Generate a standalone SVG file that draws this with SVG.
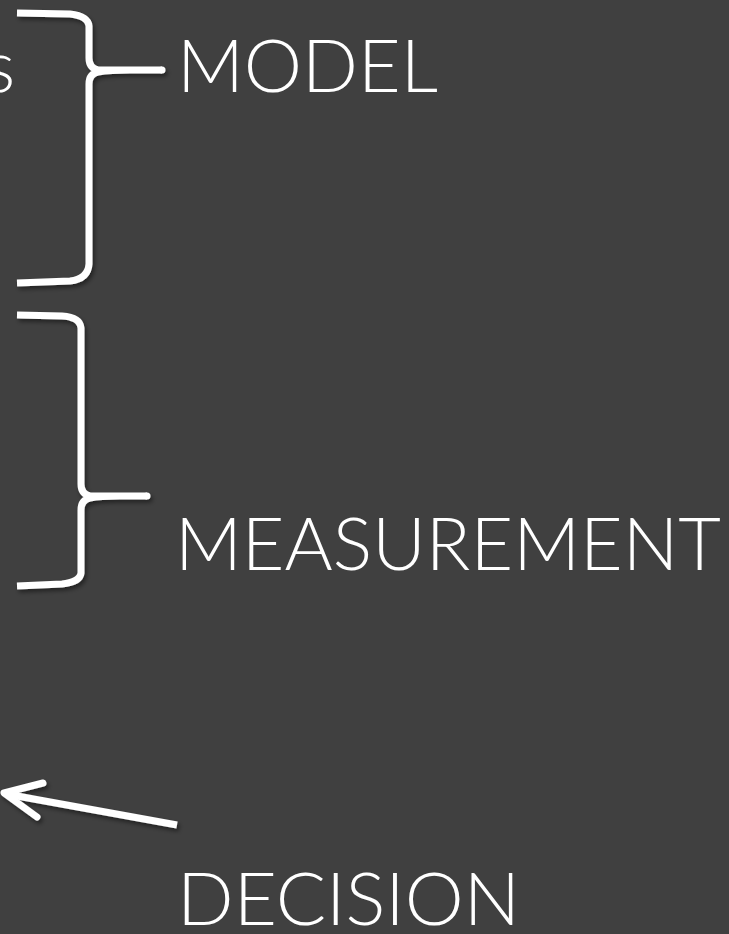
<svg xmlns="http://www.w3.org/2000/svg" width="729" height="934" viewBox="0 0 729 934">
<style>
.t{font-family:"Lato","Open Sans","Liberation Sans",sans-serif;font-weight:300;fill:#ffffff;font-size:72px}
.b{fill:none;stroke:#ffffff;stroke-width:7;stroke-linecap:round;stroke-linejoin:round}
</style>
<defs>
<filter id="sh" x="-20%" y="-20%" width="140%" height="140%">
<feDropShadow dx="2" dy="3" stdDeviation="2" flood-color="#000" flood-opacity="0.45"/>
</filter>
</defs>
<rect width="729" height="934" fill="#404040"/>
<g id="partial-s"><text class="t" x="15" y="92" text-anchor="end">s</text></g>
<g id="connectors" filter="url(#sh)">
<path class="b" style="stroke-linecap:butt" d="M17,13 L70,14 Q88,16 89,26 L89,58 Q89,68 98,70 Q110,70 130,70 L162,70 M130,70 Q110,70 98,72 Q89,74 89,84 L89,264 Q88,279 70,281 L17,283"/>
<path class="b" style="stroke-linecap:butt" d="M17,315 L62,316 Q80,317 81,328 L81,484 Q81,494 90,496 Q100,496 120,496 L147,496 M120,496 Q100,496 90,498 Q81,500 81,510 L81,573 Q80,582 62,584 L17,586"/>
<path class="b" d="M147,496 L147,496"/>
<path class="b" d="M162,70 L162,70"/>
<line class="b" style="stroke-linecap:butt" x1="177" y1="825" x2="6" y2="794"/>
<polyline class="b" points="43,783 4,793 37,817"/>
</g>
<g id="model"><text class="t" x="177" y="92" textLength="261" lengthAdjust="spacingAndGlyphs">MODEL</text></g>
<g id="measurement"><text class="t" x="175" y="570" textLength="546" lengthAdjust="spacingAndGlyphs">MEASUREMENT</text></g>
<g id="decision"><text class="t" x="177" y="925" textLength="343" lengthAdjust="spacingAndGlyphs">DECISION</text></g>
</svg>
